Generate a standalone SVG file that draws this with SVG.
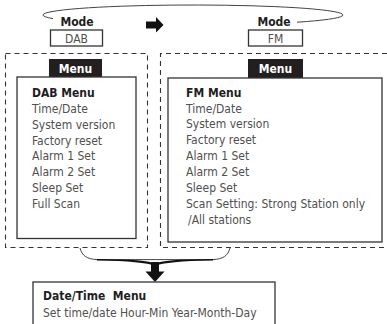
<svg xmlns="http://www.w3.org/2000/svg" width="387" height="324" viewBox="0 0 387 324">
<style>
text{font-family:'DejaVu Sans Condensed','DejaVu Sans','Liberation Sans',sans-serif;font-stretch:condensed;font-size:12px}
.item{fill:#505050}
.hd{fill:#1e1e1e;font-weight:bold}
.tabt{fill:#fff;font-weight:bold;text-anchor:middle}
.mode{fill:#1e1e1e;font-weight:bold;text-anchor:middle}
.val{fill:#505050;text-anchor:middle}
.box{fill:#fff;stroke:#333;stroke-width:1.3}
.tab{fill:#231f20}
.dash{fill:none;stroke:#333;stroke-width:1.1;stroke-dasharray:5 4}
.conn{fill:none;stroke:#444;stroke-width:1}
</style>
<rect width="387" height="324" fill="#fff"/>
<g id="connectors">
<path class="conn" d="M53,18.6 A150,10 0 1,1 297,22.2"/>
<path fill="#111" d="M146,21.5 H156 V17 L163.5,25 L156,32.5 V28.5 H146 Z"/>
<path class="conn" d="M80,248 C82,256 87,259 97,259.6 L213,259.6 C223,259 228,256 230,248"/>
<path fill="#111" d="M97,259.1 Q148,259.3 155,264 Q162,259.3 213,259.1 L213,260.6 Q166,261.2 155,266 Q144,261.2 97,260.6 Z"/>
<path fill="#111" d="M151,262 H159 V271.5 H164.5 L155,282 L145.5,271.5 H151 Z"/>
</g>
<g id="mode-dab">
<text class="mode" x="77" y="26">Mode</text>
<rect class="box" x="50.5" y="30" width="52" height="16"/>
<text class="val" x="76.5" y="42.5">DAB</text>
</g>
<g id="mode-fm">
<text class="mode" x="274" y="26">Mode</text>
<rect class="box" x="248.5" y="30" width="54" height="16"/>
<text class="val" x="275.5" y="42.5">FM</text>
</g>
<g id="dab-menu">
<path class="dash" d="M5.5,53.5 H147.5 V247.5 H5.5 Z"/>
<rect class="tab" x="49" y="59" width="53" height="18"/>
<text class="tabt" x="75.5" y="72.5">Menu</text>
<rect class="box" x="17" y="77" width="119" height="161.5"/>
<text class="hd" x="32" y="97">DAB Menu</text>
<text class="item" x="32" y="112.5">Time/Date</text>
<text class="item" x="32" y="128.5">System version</text>
<text class="item" x="32" y="144.5">Factory reset</text>
<text class="item" x="32" y="160">Alarm 1 Set</text>
<text class="item" x="32" y="176">Alarm 2 Set</text>
<text class="item" x="32" y="192">Sleep Set</text>
<text class="item" x="32" y="208">Full Scan</text>
</g>
<g id="fm-menu">
<path class="dash" d="M387,53.5 H160.5 V247.5 H387"/>
<rect class="tab" x="248" y="59" width="55" height="19"/>
<text class="tabt" x="275.5" y="73">Menu</text>
<rect class="box" x="168" y="78" width="214" height="164"/>
<text class="hd" x="186" y="97">FM Menu</text>
<text class="item" x="186" y="112.5">Time/Date</text>
<text class="item" x="186" y="128">System version</text>
<text class="item" x="186" y="144">Factory reset</text>
<text class="item" x="186" y="160">Alarm 1 Set</text>
<text class="item" x="186" y="176">Alarm 2 Set</text>
<text class="item" x="186" y="192">Sleep Set</text>
<text class="item" x="186" y="208">Scan Setting: Strong Station only</text>
<text class="item" x="188" y="224">/All stations</text>
</g>
<g id="datetime-menu">
<rect class="box" x="33" y="282" width="242" height="50"/>
<text class="hd" x="43" y="300" xml:space="preserve">Date/Time  Menu</text>
<text class="item" x="43" y="317">Set time/date Hour-Min Year-Month-Day</text>
</g>
</svg>
